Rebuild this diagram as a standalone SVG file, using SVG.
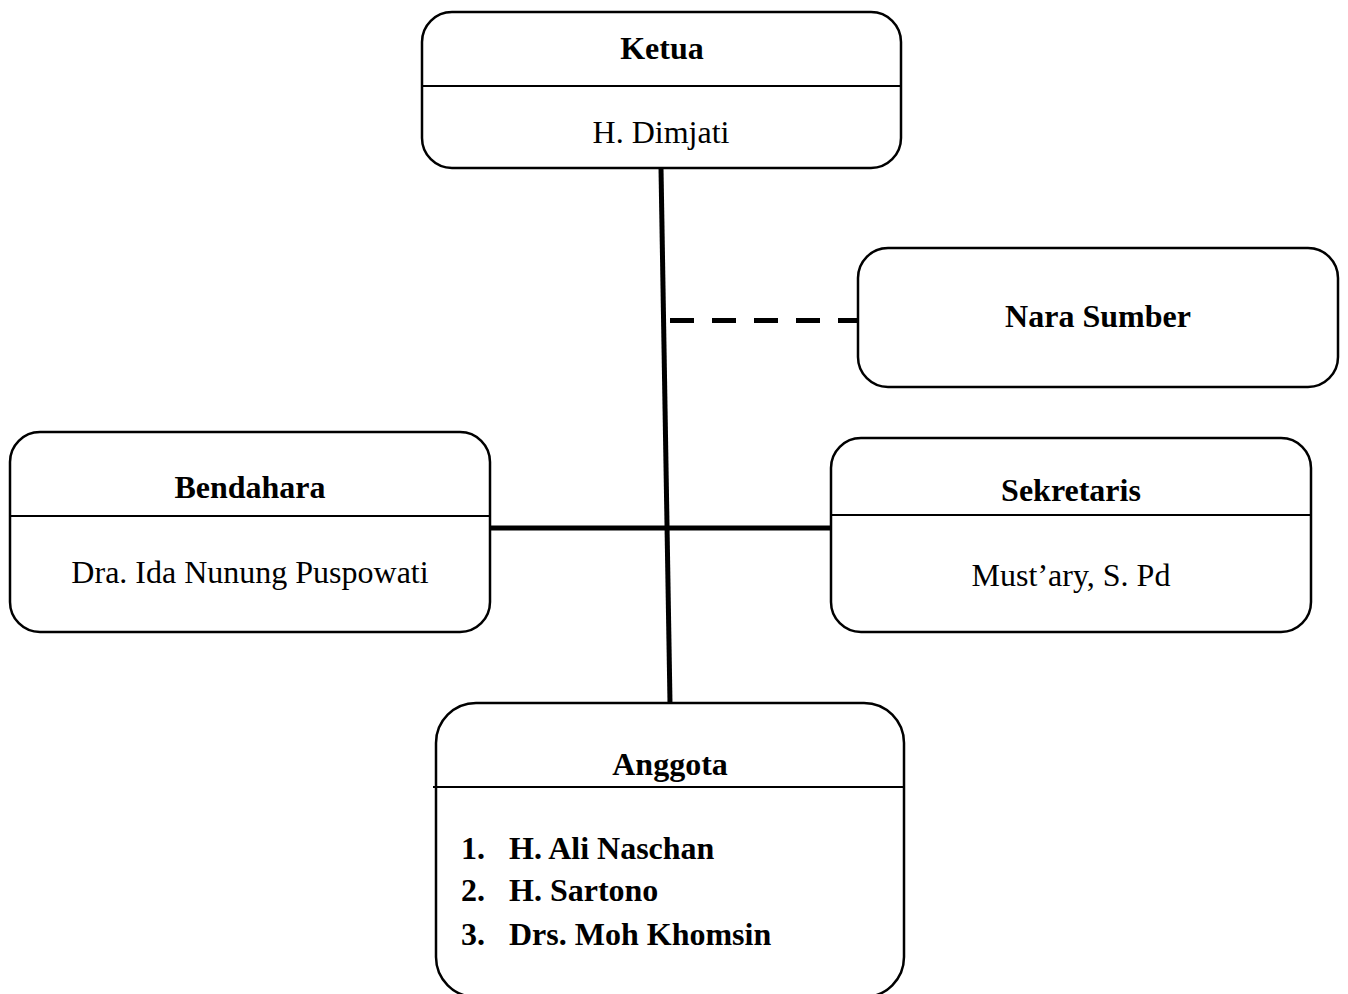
<svg xmlns="http://www.w3.org/2000/svg" width="1348" height="994" viewBox="0 0 1348 994">
<style>
.box{fill:#fff;stroke:#000;stroke-width:2.5}
.div{stroke:#000;stroke-width:2}
.t{font-family:"Liberation Serif","Times New Roman",serif;font-size:32px;fill:#000}
.b{font-weight:bold}
.c{text-anchor:middle}
.con{stroke:#000;stroke-width:5;fill:none}
</style>
<rect width="1348" height="994" fill="#fff"/>
<g id="connectors">
<line class="con" x1="661" y1="168" x2="670" y2="703"/>
<line class="con" x1="490" y1="528" x2="831" y2="528"/>
<line class="con" x1="670" y1="320.5" x2="858" y2="320.5" stroke-width="6" stroke-dasharray="24,18"/>
</g>
<g id="ketua">
<rect class="box" x="422" y="12" width="479" height="156" rx="30"/>
<line class="div" x1="422" y1="86" x2="901" y2="86"/>
<text class="t b c" x="662" y="59">Ketua</text>
<text class="t c" x="661" y="143">H. Dimjati</text>
</g>
<g id="nara-sumber">
<rect class="box" x="858" y="248" width="480" height="139" rx="30"/>
<text class="t b c" x="1098" y="327">Nara Sumber</text>
</g>
<g id="bendahara">
<rect class="box" x="10" y="432" width="480" height="200" rx="30"/>
<line class="div" x1="10" y1="516" x2="490" y2="516"/>
<text class="t b c" x="250" y="498">Bendahara</text>
<text class="t c" x="250" y="583">Dra. Ida Nunung Puspowati</text>
</g>
<g id="sekretaris">
<rect class="box" x="831" y="438" width="480" height="194" rx="30"/>
<line class="div" x1="831" y1="515" x2="1311" y2="515"/>
<text class="t b c" x="1071" y="501">Sekretaris</text>
<text class="t c" x="1071" y="586">Must’ary, S. Pd</text>
</g>
<g id="anggota">
<rect class="box" x="436" y="703" width="468" height="294" rx="40"/>
<line class="div" x1="433" y1="787" x2="904" y2="787"/>
<text class="t b c" x="670" y="775">Anggota</text>
<text class="t b" x="461" y="859">1.</text>
<text class="t b" x="509" y="859">H. Ali Naschan</text>
<text class="t b" x="461" y="901">2.</text>
<text class="t b" x="509" y="901">H. Sartono</text>
<text class="t b" x="461" y="945">3.</text>
<text class="t b" x="509" y="945">Drs. Moh Khomsin</text>
</g>
</svg>
